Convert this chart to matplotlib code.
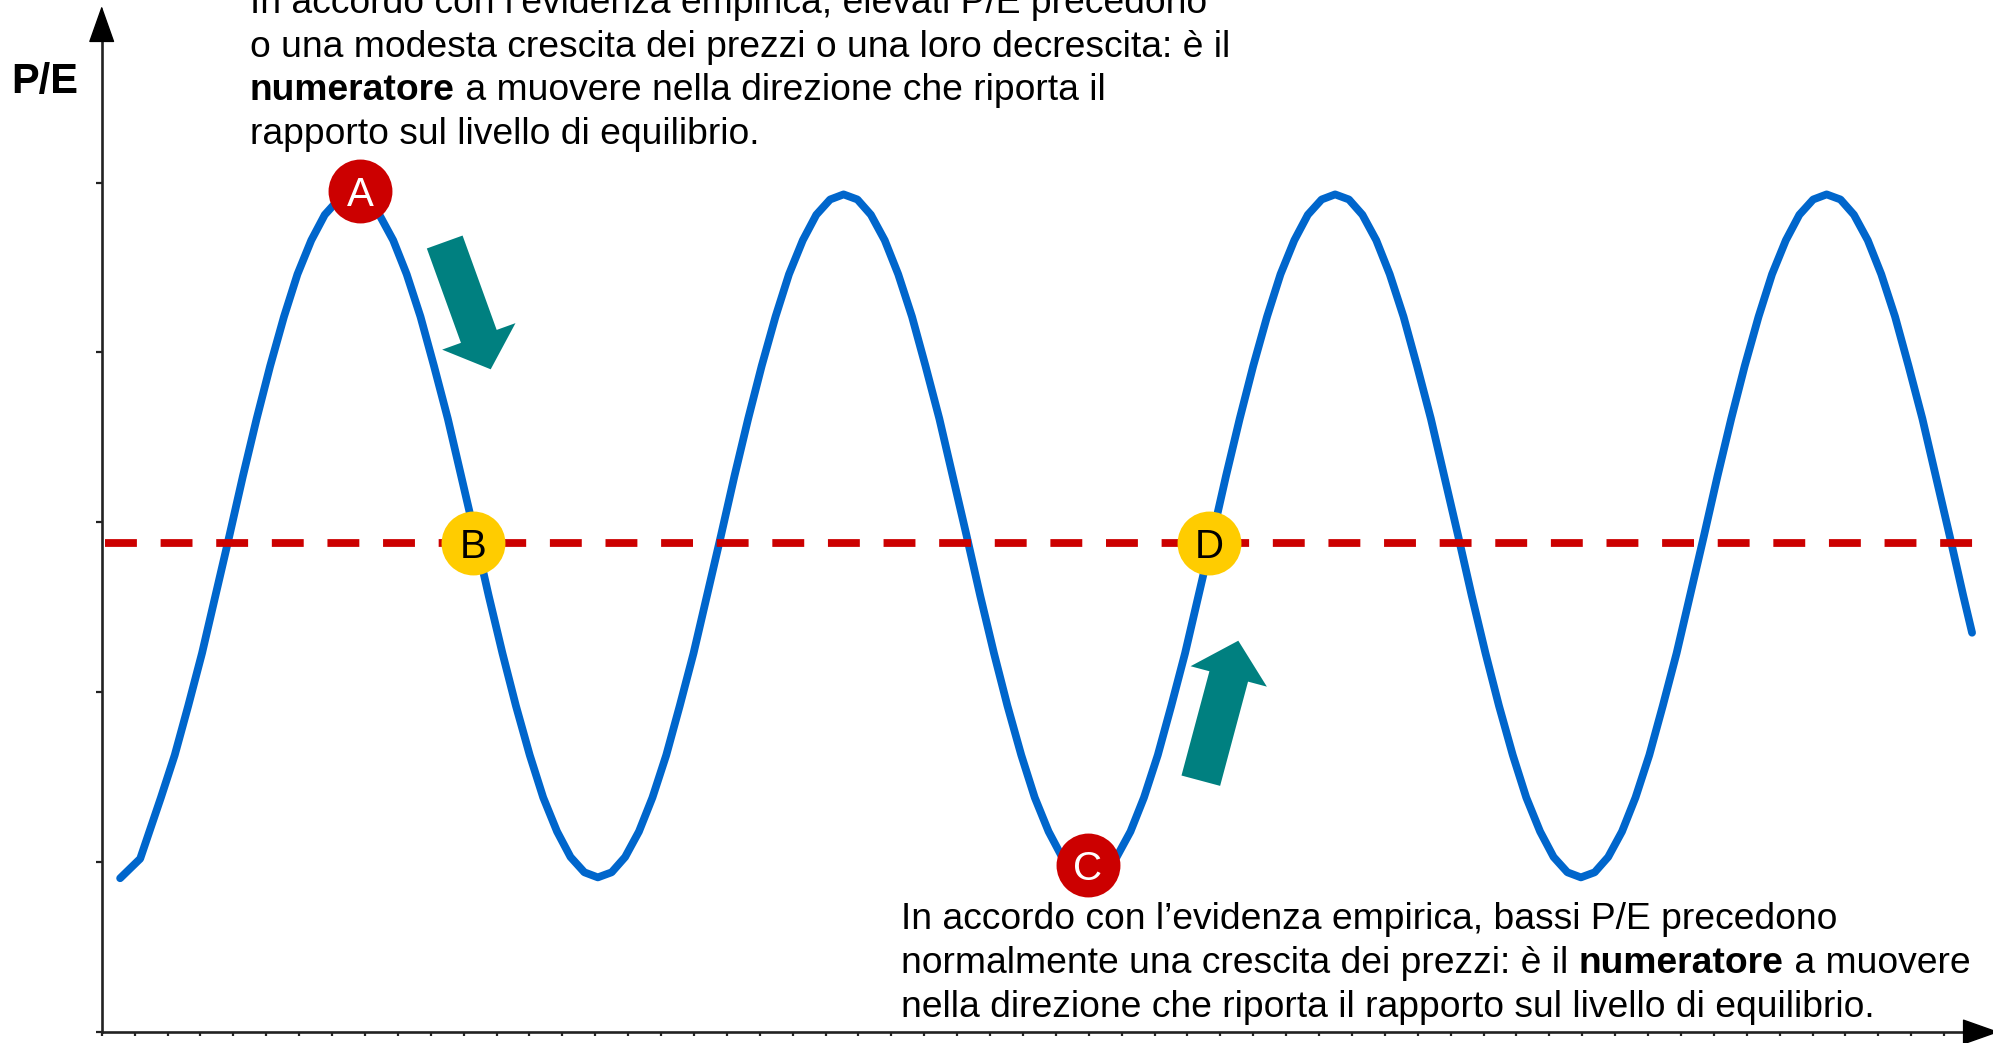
import matplotlib
matplotlib.use("Agg")
import matplotlib.pyplot as plt
from matplotlib.patches import FancyArrow

plt.rcParams['font.family'] = ['Liberation Sans', 'DejaVu Sans']

# P/E path (x in x-tick steps, y in y-tick steps)
time_x = [0.56, 1.17,
          1.80, 2.22, 2.63, 3.05, 3.46, 3.88, 4.29, 4.71, 5.12, 5.54, 5.95, 6.37,
          6.78, 7.20, 7.61, 8.03, 8.44, 8.86, 9.27, 9.69, 10.10, 10.52, 10.93, 11.35,
          11.76, 12.18, 12.59, 13.01, 13.42, 13.84, 14.25, 14.67,
          15.08, 15.50, 15.91, 16.33, 16.74, 17.16, 17.57, 17.99, 18.40, 18.82, 19.23, 19.65,
          20.06, 20.48, 20.89, 21.31, 21.72, 22.14, 22.55, 22.97, 23.38, 23.80, 24.21, 24.63,
          25.04, 25.46, 25.87, 26.29, 26.70, 27.12, 27.53, 27.95, 28.36, 28.78, 29.19, 29.61,
          30.02, 30.44, 30.85, 31.27, 31.68, 32.10, 32.51, 32.93, 33.34, 33.76, 34.17, 34.59,
          35.00, 35.42, 35.83, 36.25, 36.66, 37.08, 37.49, 37.91, 38.32, 38.74, 39.15, 39.57,
          39.98, 40.40, 40.81, 41.23, 41.64, 42.06, 42.47, 42.89, 43.30, 43.72, 44.13, 44.55,
          44.96, 45.38, 45.79, 46.21, 46.62, 47.04, 47.45, 47.87, 48.28, 48.70, 49.11, 49.53,
          49.94, 50.36, 50.77, 51.19, 51.60, 52.02, 52.43, 52.85, 53.26, 53.68, 54.09, 54.51,
          54.92, 55.34, 55.75, 56.17, 56.58,
          56.85]
pe_ratio = [0.905, 1.02,
            1.38, 1.63, 1.92, 2.23, 2.57, 2.92, 3.27, 3.61, 3.92, 4.21, 4.46, 4.66,
            4.81, 4.90, 4.93, 4.90, 4.81, 4.66, 4.46, 4.21, 3.92, 3.61, 3.27, 2.92,
            2.57, 2.23, 1.92, 1.63, 1.38, 1.18, 1.03, 0.94,
            0.91, 0.94, 1.03, 1.18, 1.38, 1.63, 1.92, 2.23, 2.57, 2.92, 3.27, 3.61,
            3.92, 4.21, 4.46, 4.66, 4.81, 4.90, 4.93, 4.90, 4.81, 4.66, 4.46, 4.21,
            3.92, 3.61, 3.27, 2.92, 2.57, 2.23, 1.92, 1.63, 1.38, 1.18, 1.03, 0.94,
            0.91, 0.94, 1.03, 1.18, 1.38, 1.63, 1.92, 2.23, 2.57, 2.92, 3.27, 3.61,
            3.92, 4.21, 4.46, 4.66, 4.81, 4.90, 4.93, 4.90, 4.81, 4.66, 4.46, 4.21,
            3.92, 3.61, 3.27, 2.92, 2.57, 2.23, 1.92, 1.63, 1.38, 1.18, 1.03, 0.94,
            0.91, 0.94, 1.03, 1.18, 1.38, 1.63, 1.92, 2.23, 2.57, 2.92, 3.27, 3.61,
            3.92, 4.21, 4.46, 4.66, 4.81, 4.90, 4.93, 4.90, 4.81, 4.66, 4.46, 4.21,
            3.92, 3.61, 3.27, 2.92, 2.57,
            2.35]

pe_equilibrium = 2.88
eq_start, eq_end = 0.11, 57.0

point_labels = ['A', 'B', 'C', 'D']
point_x = [7.86, 11.29, 29.98, 33.66]
point_y = [4.95, 2.88, 0.985, 2.88]
point_colors = ['#CC0000', '#FFCC00', '#CC0000', '#FFCC00']
label_colors = ['white', 'black', 'white', 'black']

x_ticks = list(range(0, 57))
y_ticks = list(range(0, 6))

top_lines = [
    [("In accordo con l\u2019evidenza empirica, elevati P/E precedono", False)],
    [("o una modesta crescita dei prezzi o una loro decrescita: \u00e8 il", False)],
    [("numeratore", True), (" a muovere nella direzione che riporta il", False)],
    [("rapporto sul livello di equilibrio.", False)],
]
bottom_lines = [
    [("In accordo con l\u2019evidenza empirica, bassi P/E precedono", False)],
    [("normalmente una crescita dei prezzi: \u00e8 il ", False), ("numeratore", True),
     (" a muovere", False)],
    [("nella direzione che riporta il rapporto sul livello di equilibrio.", False)],
]

W, H = 1993, 1043
# pixel geometry of the original axes
X0, Y0 = 101.7, 1032.0
XU, YU = 32.9, 169.9

BLUE = '#0066CC'
RED = '#CC0000'
TEAL = '#008080'
AXIS = '#222222'

fig = plt.figure(figsize=(W / 100, H / 100), dpi=100)
fig.patch.set_facecolor('white')

ax = fig.add_axes([0, 0, 1, 1])
ax.set_xlim(-X0 / XU, (W - X0) / XU)
ax.set_ylim((Y0 - H) / YU, Y0 / YU)
ax.patch.set_alpha(0)

for side in ['top', 'right']:
    ax.spines[side].set_visible(False)
ax.spines['left'].set_position(('data', 0))
ax.spines['bottom'].set_position(('data', 0))
ax.spines['left'].set_bounds(0, (Y0 - 39) / YU)
ax.spines['bottom'].set_bounds(0, (1965 - X0) / XU)
for side in ['left', 'bottom']:
    ax.spines[side].set_linewidth(1.9)
    ax.spines[side].set_color(AXIS)

ax.set_xticks(x_ticks)
ax.set_yticks(y_ticks)
ax.tick_params(axis='x', direction='out', length=3, width=1.6, color=AXIS, labelbottom=False)
ax.tick_params(axis='y', direction='out', length=4, width=1.6, color=AXIS, labelleft=False)

# arrow heads of the axes
head = '-|>,head_length=2.4,head_width=0.85'
ax.annotate('', xy=(0, (Y0 - 6) / YU), xytext=(0, (Y0 - 40) / YU),
            arrowprops=dict(arrowstyle=head, mutation_scale=10, color='black', lw=1,
                            shrinkA=0, shrinkB=0),
            annotation_clip=False)
ax.annotate('', xy=((1999 - X0) / XU, 0), xytext=((1964 - X0) / XU, 0),
            arrowprops=dict(arrowstyle=head, mutation_scale=10, color='black', lw=1,
                            shrinkA=0, shrinkB=0),
            annotation_clip=False)

# P/E curve and equilibrium level
ax.plot(time_x, pe_ratio, color=BLUE, lw=5.6, solid_capstyle='round',
        solid_joinstyle='round', zorder=3)
ax.plot([eq_start, eq_end], [pe_equilibrium, pe_equilibrium], color=RED, lw=5.6,
        dashes=(4.1, 3.05), dash_capstyle='butt', zorder=4)

for lab, x, y, c, tc in zip(point_labels, point_x, point_y, point_colors, label_colors):
    ax.plot([x], [y], 'o', ms=46, color=c, mec='none', zorder=5)
    ax.text(x, y, lab, fontsize=29, color=tc, ha='center', va='center_baseline', zorder=6)

# overlay in pixel units for notes and block arrows
ax2 = fig.add_axes([0, 0, 1, 1])
ax2.set_xlim(0, W)
ax2.set_ylim(H, 0)
ax2.axis('off')
ax2.patch.set_alpha(0)


def rich_line(x, y, parts, size=26.8):
    prev = None
    for txt, bold in parts:
        w = 'bold' if bold else 'normal'
        if prev is None:
            prev = ax2.text(x, y, txt, fontsize=size, fontweight=w, ha='left', va='baseline')
        else:
            prev = ax2.annotate(txt, xy=(1, 0), xycoords=prev, fontsize=size, fontweight=w,
                                ha='left', va='bottom')


for i, parts in enumerate(top_lines):
    rich_line(250, 13 + 43.7 * i, parts)
for i, parts in enumerate(bottom_lines):
    rich_line(901, 929 + 44 * i, parts)

ax2.text(45, 93, 'P/E', fontsize=30, fontweight='bold', ha='center', va='baseline')

# movement arrows
ax2.add_patch(FancyArrow(444.7, 242, 46, 127.3, width=38, head_width=78, head_length=35,
                         length_includes_head=True, color=TEAL, lw=0))
ax2.add_patch(FancyArrow(1200.8, 780.7, 37.5, -140, width=40, head_width=79, head_length=37,
                         length_includes_head=True, color=TEAL, lw=0))

fig.savefig('out.png', dpi=100, facecolor='white')
